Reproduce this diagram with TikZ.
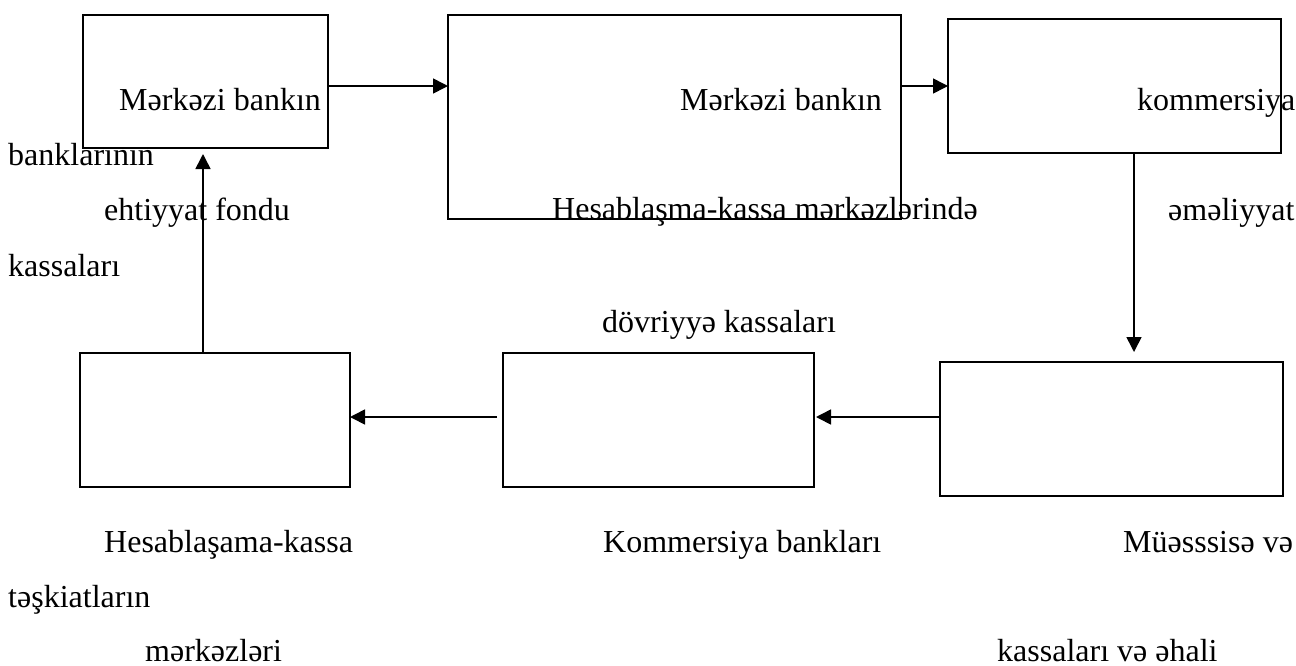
\documentclass[tikz,border=0pt]{standalone}
\usepackage{fontspec}
\setmainfont{Liberation Serif}
\usetikzlibrary{arrows.meta}
\begin{document}
\begin{tikzpicture}[x=1pt,y=-1pt,
  box/.style={draw,line width=1.8pt,rectangle,inner sep=0pt,outer sep=0pt},
  arr/.style={line width=1.6pt,-{Triangle[length=15pt,width=15pt]}},
  lbl/.style={anchor=base west,inner sep=0pt,font=\fontsize{32}{38}\selectfont}]
\useasboundingbox (0,0) rectangle (1296,665);

% boxes
\node[box,minimum width=245pt,minimum height=133pt] (b1) at (205.5,81.5) {};
\node[box,minimum width=453pt,minimum height=204pt] (b2) at (674.5,117) {};
\node[box,minimum width=333pt,minimum height=134pt] (b3) at (1114.5,86) {};
\node[box,minimum width=270pt,minimum height=134pt] (b4) at (215,420) {};
\node[box,minimum width=311pt,minimum height=134pt] (b5) at (658.5,420) {};
\node[box,minimum width=343pt,minimum height=134pt] (b6) at (1111.5,429) {};

% connector guides
\coordinate (rowtop) at (0,86);
\coordinate (rowbot) at (0,417);
\coordinate (coldown) at (1134,0);
\coordinate (colup) at (203,0);

% connectors
\draw[arr] (b1.east |- rowtop) -- (b2.west |- rowtop);
\draw[arr] (b2.east |- rowtop) -- (b3.west |- rowtop);
\draw[arr,shorten >=10pt] (b3.south -| coldown) -- (b6.north -| coldown);
\draw[arr,shorten >=2pt] (b6.west |- rowbot) -- (b5.east |- rowbot);
\draw[arr,shorten <=6pt] (b5.west |- rowbot) -- (b4.east |- rowbot);
\draw[arr,shorten >=6pt] (b4.north -| colup) -- (b1.south -| colup);

% texts
\node[lbl] (t1) at (119,110) {Mərkəzi bankın};
\node[lbl] (t2) at (680,110) {Mərkəzi bankın};
\node[lbl] (t3) at (1137,110) {kommersiya};
\node[lbl] (t4) at (8,165) {banklarının};
\node[lbl] (t5) at (104,220) {ehtiyyat fondu};
\node[lbl] (t6) at (552,219) {Hesablaşma-kassa mərkəzlərində};
\node[lbl] (t7) at (1168,220) {əməliyyat};
\node[lbl] (t8) at (8,276) {kassaları};
\node[lbl] (t9) at (602,332) {dövriyyə kassaları};
\node[lbl] (t10) at (104,552) {Hesablaşama-kassa};
\node[lbl] (t11) at (603,552) {Kommersiya bankları};
\node[lbl] (t12) at (1123,552) {Müəsssisə və};
\node[lbl] (t13) at (8,607) {təşkiatların};
\node[lbl] (t14) at (145,661) {mərkəzləri};
\node[lbl] (t15) at (997,661) {kassaları və əhali};
\end{tikzpicture}
\end{document}
